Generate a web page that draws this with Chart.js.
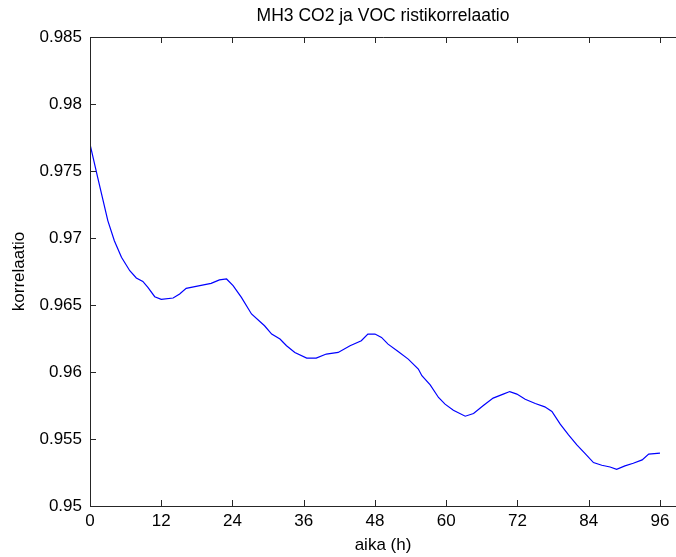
<!DOCTYPE html>
<html>
<head>
<meta charset="utf-8">
<script src="https://cdn.jsdelivr.net/npm/chart.js@4/dist/chart.umd.min.js"></script>
<style>
  html, body { margin: 0; padding: 0; background: #fff; overflow: hidden; }
  #chart { display: block; }
</style>
</head>
<body>
<canvas id="chart" width="676" height="557"></canvas>
<script>
const HOURS = [0, 1.3, 3.0, 4.1, 5.3, 6.7, 7.8, 8.9, 9.75, 10.9, 12.0, 14.0, 15.1, 16.2, 18.5, 20.4, 21.8, 23.0,
  24.1, 25.5, 27.2, 29.4, 30.6, 32.0, 33.1, 34.5, 36.5, 38.1, 39.8, 41.8, 43.8, 45.7, 46.8, 48.0, 49.1, 50.2,
  51.9, 53.6, 55.3, 55.9, 57.3, 58.7, 59.8, 61.2, 63.2, 64.6, 66.2, 67.9, 69.6, 70.7, 71.9, 73.3, 75.0, 76.6,
  77.8, 79.2, 80.6, 82.0, 83.4, 84.8, 86.2, 87.6, 88.7, 90.1, 91.5, 93.0, 94.1, 96.0];
const CORR = [0.9770, 0.9745, 0.9713, 0.9698, 0.96856, 0.96756, 0.96702, 0.96676, 0.96632, 0.96562, 0.96542,
  0.96552, 0.96582, 0.96624, 0.96644, 0.96661, 0.96687, 0.96694, 0.96644, 0.96557, 0.96433, 0.96345, 0.96283,
  0.96246, 0.96196, 0.96146, 0.96104, 0.96104, 0.96134, 0.96146, 0.96196, 0.96233, 0.96283, 0.96283, 0.96258,
  0.96208, 0.96153, 0.96096, 0.96022, 0.95972, 0.95904, 0.95810, 0.95760, 0.95715, 0.95670, 0.95690, 0.95748,
  0.95805, 0.95835, 0.95854, 0.95835, 0.95797, 0.95765, 0.95740, 0.95705, 0.95611, 0.95531, 0.95456, 0.95391,
  0.95324, 0.95304, 0.95291, 0.95274, 0.95299, 0.95319, 0.95344, 0.95387, 0.95394];
const X_TICKS = [0, 12, 24, 36, 48, 60, 72, 84, 96];
const Y_TICKS = [0.95, 0.955, 0.96, 0.965, 0.97, 0.975, 0.98, 0.985];

const TITLE = 'MH3 CO2 ja VOC ristikorrelaatio';
const FONT = "'Liberation Sans', Arial, sans-serif";
const AXIS_COLOR = '#262626';

// MATLAB-style box: frame plus inward tick marks, title over the plot area
const boxPlugin = {
  id: 'matlabBox',
  afterDraw(chart) {
    const { ctx, chartArea: a, scales: { x, y } } = chart;
    const t = 6;
    ctx.save();
    ctx.strokeStyle = AXIS_COLOR;
    ctx.lineWidth = 1;
    ctx.beginPath();
    ctx.moveTo(a.left + 0.5, a.bottom + 0.5);
    ctx.lineTo(a.left + 0.5, a.top + 0.5);
    ctx.lineTo(a.right, a.top + 0.5);
    ctx.moveTo(a.left, a.bottom + 0.5);
    ctx.lineTo(a.right, a.bottom + 0.5);
    x.ticks.forEach(tk => {
      const px = Math.round(x.getPixelForValue(tk.value)) + 0.5;
      ctx.moveTo(px, a.bottom); ctx.lineTo(px, a.bottom - t);
      ctx.moveTo(px, a.top); ctx.lineTo(px, a.top + t);
    });
    y.ticks.forEach(tk => {
      const py = Math.round(y.getPixelForValue(tk.value)) + 0.5;
      ctx.moveTo(a.left, py); ctx.lineTo(a.left + t, py);
    });
    ctx.stroke();

    ctx.fillStyle = '#000';
    ctx.font = '17.5px ' + FONT;
    ctx.textAlign = 'center';
    ctx.textBaseline = 'middle';
    ctx.fillText(TITLE, (a.left + a.right) / 2, 16);
    ctx.restore();
  }
};

new Chart(document.getElementById('chart'), {
  type: 'line',
  data: {
    datasets: [{
      data: HOURS.map((h, i) => ({ x: h, y: CORR[i] })),
      borderColor: '#0000ff',
      borderWidth: 1.2,
      pointRadius: 0,
      tension: 0,
      fill: false
    }]
  },
  options: {
    responsive: false,
    animation: false,
    layout: { padding: { top: 37, left: 0, right: 0, bottom: 0 } },
    plugins: { legend: { display: false }, tooltip: { enabled: false }, title: { display: false } },
    scales: {
      x: {
        type: 'linear',
        min: 0,
        max: 98.7,
        afterBuildTicks: s => { s.ticks = X_TICKS.map(v => ({ value: v })); },
        afterFit: s => { s.height = 51; },
        grid: { display: false, drawTicks: false },
        border: { display: false },
        ticks: { color: '#000', font: { family: FONT, size: 17 }, padding: 5, maxRotation: 0 },
        title: { display: true, text: 'aika (h)', color: '#000', font: { family: FONT, size: 17 }, padding: { top: 0, bottom: 1 } }
      },
      y: {
        min: 0.95,
        max: 0.985,
        afterBuildTicks: s => { s.ticks = Y_TICKS.map(v => ({ value: v })); },
        afterFit: s => { s.width = 90; },
        grid: { display: false, drawTicks: false },
        border: { display: false },
        ticks: {
          color: '#000', font: { family: FONT, size: 17 }, padding: 8,
          callback: v => String(+v.toFixed(3))
        },
        title: { display: true, text: 'korrelaatio', color: '#000', font: { family: FONT, size: 17 }, padding: { top: 9, bottom: 0 } }
      }
    }
  },
  plugins: [boxPlugin]
});
</script>
</body>
</html>
